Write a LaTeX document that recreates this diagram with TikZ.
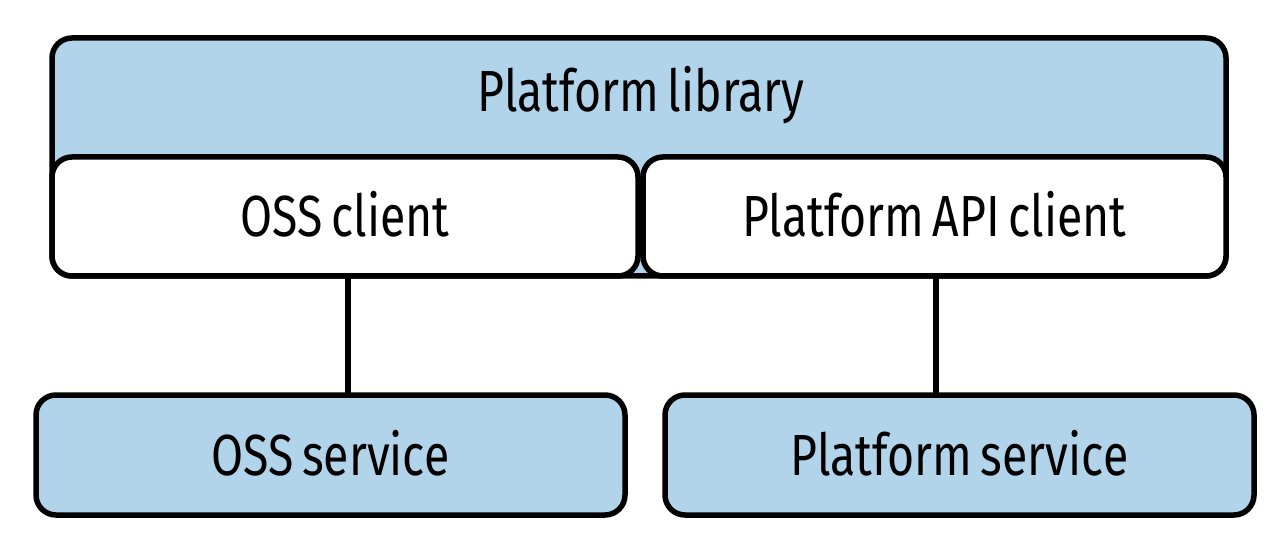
\documentclass[tikz,border=0pt]{standalone}
\usepackage{fontspec}
\setmainfont{Fira Sans}[FakeStretch=0.8, WordSpace=0.7]
\definecolor{boxblue}{RGB}{178,212,234}
\tikzset{
  frame/.style={draw=black, line width=5.5pt, rounded corners=20pt, inner sep=0pt, outer sep=0pt},
  label text/.style={font=\fontsize{58}{64}\selectfont, text height=40pt, text depth=0pt, inner sep=0pt},
  conn/.style={draw=black, line width=6pt},
}
\begin{document}
\begin{tikzpicture}[x=1pt,y=-1pt]
\useasboundingbox (0,0) rectangle (1279,553);
% outer library box
\node[frame, fill=boxblue, minimum width=1174pt, minimum height=238pt] (lib) at (639,157) {};
\node[label text] (libtext) at (641,92) {Platform library};
% inner client boxes
\node[frame, fill=white, minimum width=586pt, minimum height=119pt, label text] (osscl) at (345,216.5) {OSS client};
\node[frame, fill=white, minimum width=583pt, minimum height=119pt, label text] (apicl) at (934.5,216.5) {Platform API client};
% services
\node[frame, fill=boxblue, minimum width=589pt, minimum height=120pt, label text] (osssvc) at (330.5,455) {OSS service};
\node[frame, fill=boxblue, minimum width=589pt, minimum height=120pt, label text] (platsvc) at (959.5,455) {Platform service};
% connectors
\coordinate (xa) at (348,0);
\coordinate (xb) at (936,0);
\draw[conn] (osscl.south -| xa) -- (osssvc.north -| xa);
\draw[conn] (apicl.south -| xb) -- (platsvc.north -| xb);
\end{tikzpicture}
\end{document}
